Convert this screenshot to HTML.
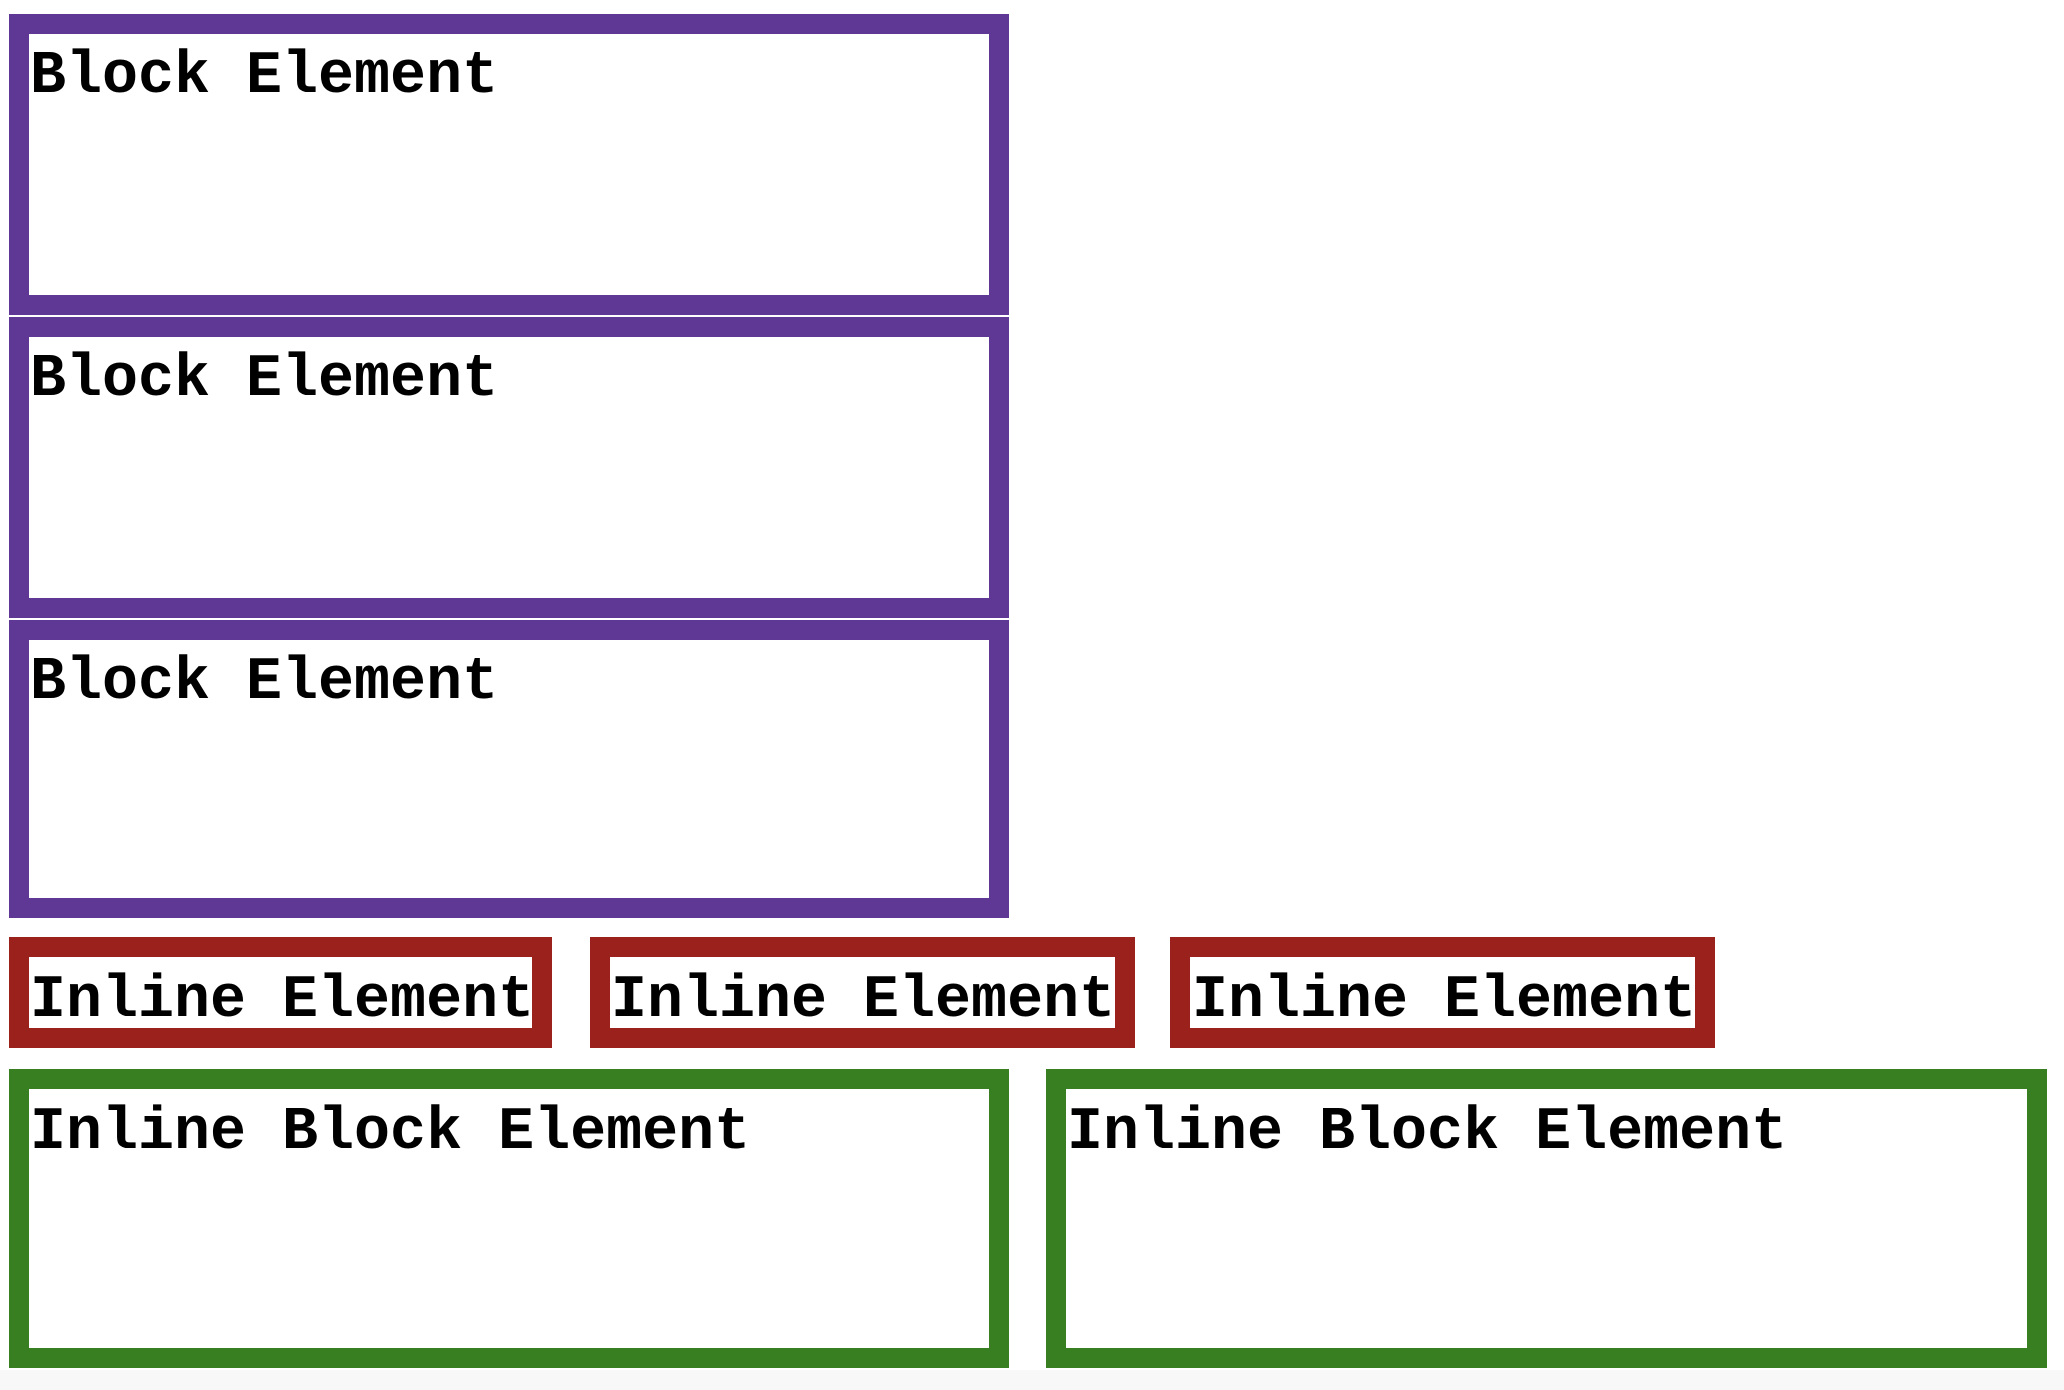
<!DOCTYPE html>
<html><head><meta charset="utf-8"><style>
html,body{margin:0;padding:0;background:#fff;width:2064px;height:1390px;overflow:hidden;position:relative}
.b{position:absolute;box-sizing:border-box;border:20px solid;background:#fff}
.p{border-color:#5f3795}.r{border-color:#9b211d}.g{border-color:#387f22}
.t{position:absolute;font-family:"Liberation Mono",monospace;font-weight:bold;color:#000;white-space:nowrap}
.t60{font-size:60px;line-height:60px}
.sh{position:absolute;left:0;top:1370px;width:2064px;height:20px;background:#f8f8f8}
</style></head><body>
<div class="sh"></div>
<div class="b p" style="left:9px;top:14px;width:1000px;height:301px"></div>
<div class="b p" style="left:9px;top:317px;width:1000px;height:301px"></div>
<div class="b p" style="left:9px;top:620px;width:1000px;height:298px"></div>
<div class="t t60" style="left:30px;top:47px">Block Element</div>
<div class="t t60" style="left:30px;top:350px">Block Element</div>
<div class="t t60" style="left:30px;top:653px">Block Element</div>

<div class="b r" style="left:9px;top:937px;width:543px;height:111px"></div>
<div class="b r" style="left:590px;top:937px;width:545px;height:111px"></div>
<div class="b r" style="left:1170px;top:937px;width:545px;height:111px"></div>
<div class="t t60" style="left:30px;top:971px">Inline Element</div>
<div class="t t60" style="left:611px;top:971px">Inline Element</div>
<div class="t t60" style="left:1192px;top:971px">Inline Element</div>

<div class="b g" style="left:9px;top:1069px;width:1000px;height:299px"></div>
<div class="b g" style="left:1046px;top:1069px;width:1001px;height:299px"></div>
<div class="t t60" style="left:30px;top:1103px">Inline Block Element</div>
<div class="t t60" style="left:1067px;top:1103px">Inline Block Element</div>
</body></html>
